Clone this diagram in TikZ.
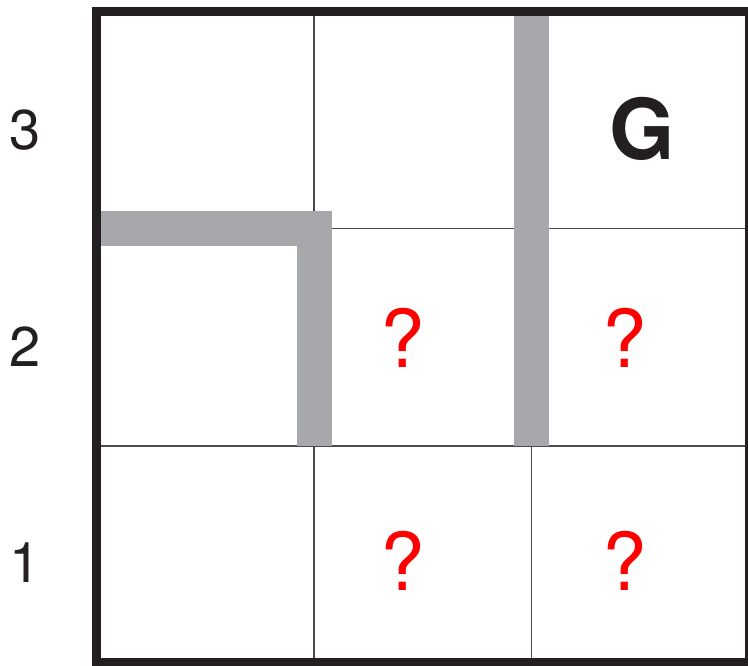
\documentclass[tikz,border=0pt]{standalone}
\usepackage{fontspec}
\setmainfont{TeX Gyre Heros}
\definecolor{wallgray}{HTML}{A7A8AB}
\definecolor{gridgray}{HTML}{4A4A4A}
\definecolor{qred}{HTML}{FF0000}
\definecolor{border}{HTML}{231F20}
\tikzset{
  gridline/.style={draw=gridgray, line width=1.5pt},
  wall/.style={draw=wallgray, line width=35pt, line cap=butt, line join=miter},
  frame/.style={draw=border, line width=9pt},
  rowlabel/.style={font=\fontsize{56}{56}\selectfont, text=border, inner sep=0pt},
  goal/.style={font=\fontsize{84}{84}\selectfont\bfseries, text=border, inner sep=0pt},
  unknown/.style={font=\fontsize{80}{80}\selectfont, text=qred, inner sep=0pt}
}
\begin{document}
\begin{tikzpicture}[x=1pt,y=1pt]
\useasboundingbox (0,0) rectangle (748,-665);
\clip (0,0) rectangle (748,-665);
\fill[white] (0,0) rectangle (748,-665);
% grid lines
\draw[gridline] (314,-11) -- (314,-662.5);
\draw[gridline] (531.5,-11) -- (531.5,-662.5);
\draw[gridline] (96.5,-228.5) -- (749.5,-228.5);
\draw[gridline] (96.5,-446) -- (749.5,-446);
% walls
\draw[wall] (101,-228.5) -- (314.5,-228.5) -- (314.5,-446);
\draw[wall] (531.5,-16) -- (531.5,-446);
% frame
\draw[frame] (96.5,-11) rectangle (749.5,-662.5);
% row labels
\node[rowlabel] (r3) at (25.5,-130) {3};
\node[rowlabel] (r2) at (25.5,-347) {2};
\node[rowlabel] (r1) at (25.5,-563) {1};
% cell contents
\node[goal] (g) at (642.5,-129) {G};
\node[unknown] (q22) at (402.5,-337.5) {?};
\node[unknown] (q32) at (625,-337.5) {?};
\node[unknown] (q21) at (403,-560.5) {?};
\node[unknown] (q31) at (625,-560.5) {?};
\end{tikzpicture}
\end{document}
